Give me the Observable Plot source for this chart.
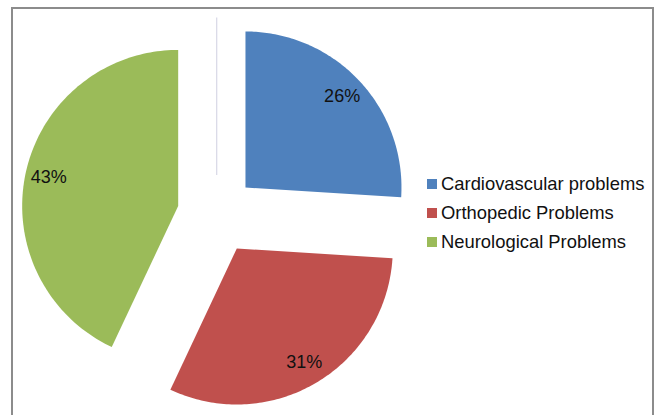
<!DOCTYPE html>
<html>
<head>
<meta charset="utf-8">
<script src="https://cdn.jsdelivr.net/npm/d3@7"></script>
<script src="https://cdn.jsdelivr.net/npm/@observablehq/plot@0.6"></script>
<style>
  html, body { margin: 0; padding: 0; background: #fff; }
  #wrap { position: relative; width: 659px; height: 415px; overflow: hidden; font-family: Arial, "Liberation Sans", sans-serif; }
  #frame { position: absolute; left: 11px; top: 7px; width: 643px; height: 420px; border-left: 2px solid #8c8c8c; border-top: 2px solid #8c8c8c; border-right: 2px solid #8c8c8c; box-sizing: border-box; pointer-events: none; }
  #legend { position: absolute; left: 427px; top: 169px; }
  .item { display: flex; align-items: center; height: 29px; font-size: 18.4px; color: #111; white-space: nowrap; }
  .sw { width: 10px; height: 10px; margin-right: 4px; flex: none; }
</style>
</head>
<body>
<div id="wrap"><div id="frame"></div><div id="legend"></div></div>
<script>
const categories = ["Cardiovascular problems", "Orthopedic Problems", "Neurological Problems"];
const shares = [26, 31, 43];
const labels = ["26%", "31%", "43%"];
const colors = ["#4F81BD", "#C0504D", "#9BBB59"];

const W = 659, H = 415;
const R = 156;            // pie radius in px
const cx = 216.2, cy = 214; // pie centre in px
const explode = 0.253;    // explosion distance (fraction of radius)
const labelR = 0.85;      // label distance from exploded slice apex

const arcs = d3.pie().sort(null)(shares);
const polys = [];
const labelData = [];
arcs.forEach((a, i) => {
  const mid = (a.startAngle + a.endAngle) / 2;
  const ox = explode * Math.sin(mid), oy = explode * Math.cos(mid);
  polys.push({name: categories[i], x: ox, y: oy});
  const n = 120;
  for (let k = 0; k <= n; k++) {
    const t = a.startAngle + (a.endAngle - a.startAngle) * k / n;
    polys.push({name: categories[i], x: ox + Math.sin(t), y: oy + Math.cos(t)});
  }
  polys.push({name: categories[i], x: ox, y: oy});
  labelData.push({text: labels[i], x: ox + labelR * Math.sin(mid), y: oy + labelR * Math.cos(mid)});
});

const chart = Plot.plot({
  width: W, height: H,
  margin: 0,
  style: {background: "transparent", overflow: "visible"},
  x: {domain: [-cx / R, (W - cx) / R], axis: null},
  y: {domain: [-(H - cy) / R, cy / R], axis: null},
  color: {domain: categories, range: colors},
  marks: [
    Plot.ruleX([0], {y1: 0.25, y2: 1.26, stroke: "#d8d8e6", strokeWidth: 1.2}),
    Plot.line(polys, {x: "x", y: "y", z: "name", fill: "name", stroke: "none", curve: "linear"}),
    Plot.text(labelData, {x: "x", y: "y", text: "text", fontSize: 18, fill: "#111", fontFamily: "Arial, 'Liberation Sans', sans-serif"})
  ]
});
chart.style.position = "absolute";
chart.style.left = "0px";
chart.style.top = "0px";
const wrap = document.getElementById("wrap");
wrap.insertBefore(chart, wrap.firstChild);

const legend = document.getElementById("legend");
categories.forEach((c, i) => {
  const row = document.createElement("div");
  row.className = "item";
  const sw = document.createElement("span");
  sw.className = "sw";
  sw.style.background = colors[i];
  const tx = document.createElement("span");
  tx.textContent = c;
  row.appendChild(sw);
  row.appendChild(tx);
  legend.appendChild(row);
});
</script>
</body>
</html>
